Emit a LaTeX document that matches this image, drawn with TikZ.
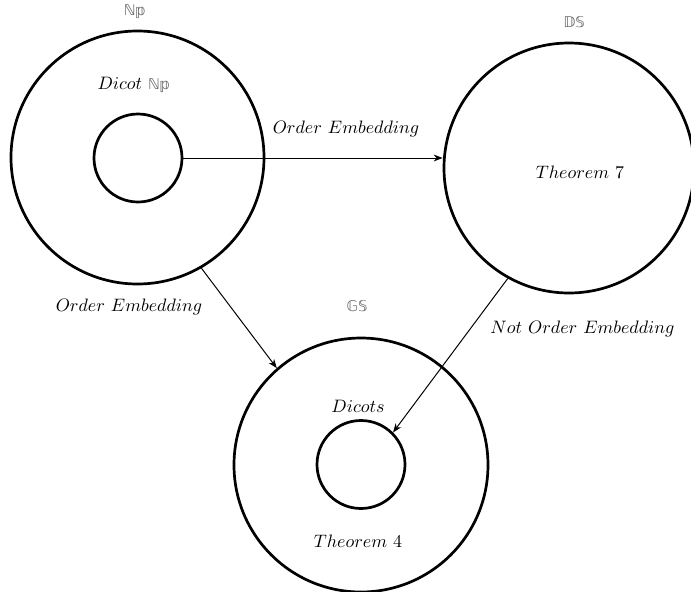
\documentclass[tikz,border=0pt]{standalone}
\usepackage{fontspec}
\usetikzlibrary{arrows.meta}
\newfontfamily\dsfont{DejaVu Sans}
\begin{document}
\begin{tikzpicture}[x=0.5556pt,y=-0.5556pt,
  bigc/.style={circle,draw,line width=1.5pt,minimum size=#1,inner sep=0pt},
  lbl/.style={inner sep=0pt,font=\normalsize},
  dsl/.style={inner sep=0pt,font=\dsfont\fontsize{8.2}{9}\selectfont,text=black!60},
  conn/.style={-{Stealth[length=5pt,width=3.8pt,inset=1.6pt]},line width=0.55pt}]
\useasboundingbox (0,0) rectangle (691,592);
% circles
\node[bigc=253*0.5556pt] (A) at (137.5,157.5) {};
\node[bigc=88*0.5556pt] (Ain) at (138,158) {};
\node[bigc=250*0.5556pt] (D) at (569,168) {};
\node[bigc=254*0.5556pt] (G) at (361,465) {};
\node[bigc=88*0.5556pt] (Gin) at (361,464.5) {};
% labels
\node[dsl] (tA) at (135,12) {ℕ𝕡};
\node[lbl] (dA) at (134,85) {$Dicot$ {\dsfont\fontsize{8.2}{9}\selectfont\color{black!60}ℕ𝕡}};
\node[dsl] (tD) at (574,22) {𝔻𝕊};
\node[lbl] (thD) at (580,172) {$Theorem\ 7$};
\node[dsl] (tG) at (357,306) {𝔾𝕊};
\node[lbl] (dG) at (358,406) {$Dicots$};
\node[lbl] (thG) at (358,541) {$Theorem\ 4$};
\node[lbl] (e1) at (346,129) {$Order\ Embedding$};
\node[lbl] (e2) at (129,307) {$Order\ Embedding$};
\node[lbl] (e3) at (582.5,329) {$Not\ Order\ Embedding$};
% connectors
\draw[conn] (Ain.east) -- (D.west |- Ain.east);
\draw[conn] (A.-60) -- (G.131);
\draw[conn] (D.241) -- (Gin.45);
\end{tikzpicture}
\end{document}
